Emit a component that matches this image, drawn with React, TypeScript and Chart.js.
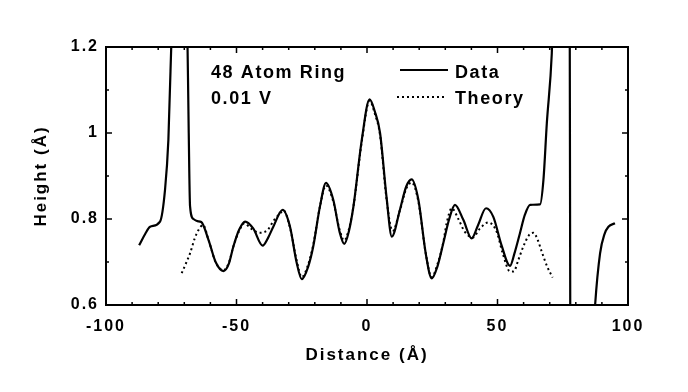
import { useEffect, useRef } from "react";
import { Chart, registerables } from "chart.js";
Chart.register(...registerables);

const dataX = [
  -87.3, -85, -83.1, -79.3, -77.4, -76.1, -74.5, -71.5, -69, -68.3, -67.8, -66.5, -65, -63.5,
  -60.7, -58, -55, -53, -51.2, -49, -46.7, -43.6, -40, -38, -35.9, -32.3, -29.5, -27, -25,
  -22.5, -20.6, -18, -15.7, -12.9, -10.5, -8.7, -7, -5.2, -2, 1, 3, 5, 7.5, 9.5, 12.6, 15,
  17.1, 19.7, 22.5, 24.8, 27, 29.2, 31.5, 33.7, 36.9, 40.1, 42.5, 45.6, 48.4, 51.5, 54.8,
  56.5, 58.6, 60.5, 62.5, 66.3, 67.6, 68.9, 70.8, 72.5, 75, 77.6, 77.9, 82, 86.5, 87.4, 89.3,
  91, 92.5, 95,
];
const dataY = [
  0.739, 0.765, 0.782, 0.794, 0.867, 0.984, 1.3, 1.6, 1.3, 1.0, 0.83, 0.8, 0.795, 0.793,
  0.751, 0.7, 0.679, 0.695, 0.736, 0.775, 0.794, 0.778, 0.738, 0.755, 0.782, 0.821, 0.782, 0.7, 0.66,
  0.69, 0.736, 0.83, 0.884, 0.844, 0.77, 0.742, 0.77, 0.829, 0.984, 1.078, 1.05, 1.0, 0.85, 0.759, 0.821, 0.875,
  0.892, 0.844, 0.72, 0.662, 0.69, 0.743, 0.8, 0.833, 0.798, 0.755, 0.785, 0.825, 0.805, 0.74, 0.691,
  0.72, 0.767, 0.81, 0.833, 0.834, 0.891, 1.023, 1.185, 1.5, 1.7, 1.5, 0.5, 0.4, 0.5, 0.6, 0.72,
  0.765, 0.782, 0.79,
];
const theoryX = [
  -71, -69.5, -67.8, -66, -64.5, -62.8, -60.7, -58, -55, -53, -51.2, -49, -47, -44.5, -41, -38,
  -35.9, -33, -32, -29.5, -27, -25, -22.5, -20.6, -18, -15.7, -12.9, -10.5, -8.7, -7, -5.2, -2,
  1, 3, 5, 7.5, 9.8, 12.6, 15, 17.1, 19.7, 22.5, 24.8, 27, 29.2, 30.5, 32.5, 35, 37.5, 40.5,
  43.3, 46.5, 49.7, 52, 54.8, 56.2, 58, 59.9, 62, 63.8, 65.5, 66.9, 69, 71.1,
];
const theoryY = [
  0.674, 0.695, 0.72, 0.755, 0.775, 0.786, 0.751, 0.7, 0.681, 0.697, 0.736, 0.772, 0.79, 0.778, 0.768, 0.775,
  0.795, 0.815, 0.82, 0.78, 0.705, 0.665, 0.695, 0.74, 0.83, 0.878, 0.84, 0.775, 0.75, 0.775, 0.829, 0.98,
  1.075, 1.045, 0.995, 0.845, 0.772, 0.82, 0.87, 0.885, 0.84, 0.72, 0.665, 0.695, 0.745, 0.79, 0.825, 0.8, 0.77, 0.757,
  0.778, 0.792, 0.77, 0.72, 0.678, 0.678, 0.705, 0.736, 0.762, 0.768, 0.75, 0.725, 0.69, 0.664,
];
const xTicks = [-100, -50, 0, 50, 100];
const yTicks = [0.6, 0.8, 1, 1.2];
const xMinorTicks = [-90, -80, -70, -60, -40, -30, -20, -10, 10, 20, 30, 40, 60, 70, 80, 90];
const yMinorTicks = [0.7, 0.9, 1.1];
const annotationLines = ["48 Atom Ring", "0.01 V"];
const legendLabels = ["Data", "Theory"];
const xTitle = "Distance (Å)";
const yTitle = "Height (Å)";

const FONT = '"Liberation Sans", Arial, Helvetica, sans-serif';

const framePlugin = {
  id: "frameAndText",
  beforeLayout(chart: any) {
    chart.ctx.letterSpacing = "2px";
  },
  beforeDraw(chart: any) {
    chart.ctx.letterSpacing = "2px";
  },
  afterDraw(chart: any) {
    const ctx = chart.ctx;
    const { left, right, top, bottom } = chart.chartArea;
    const xs = chart.scales.x;
    const ys = chart.scales.y;
    ctx.save();
    ctx.strokeStyle = "#000";
    ctx.lineWidth = 2;
    ctx.strokeRect(left, top, right - left, bottom - top);
    ctx.lineWidth = 1.5;
    ctx.beginPath();
    const tick = (v: number, len: number, horiz: boolean) => {
      if (horiz) {
        const p = xs.getPixelForValue(v);
        ctx.moveTo(p, bottom); ctx.lineTo(p, bottom - len);
        ctx.moveTo(p, top); ctx.lineTo(p, top + len);
      } else {
        const p = ys.getPixelForValue(v);
        ctx.moveTo(left, p); ctx.lineTo(left + len, p);
        ctx.moveTo(right, p); ctx.lineTo(right - len, p);
      }
    };
    xTicks.forEach((v) => tick(v, 6, true));
    xMinorTicks.forEach((v) => tick(v, 3, true));
    yTicks.forEach((v) => tick(v, 6, false));
    yMinorTicks.forEach((v) => tick(v, 3, false));
    ctx.stroke();

    ctx.fillStyle = "#000";
    ctx.font = `bold 18px ${FONT}`;
    ctx.letterSpacing = "1.6px";
    ctx.textAlign = "left";
    ctx.textBaseline = "alphabetic";
    ctx.fillText(annotationLines[0], 211, 78);
    ctx.fillText(annotationLines[1], 211, 104);

    ctx.lineWidth = 2;
    ctx.beginPath();
    ctx.moveTo(400, 70);
    ctx.lineTo(448, 70);
    ctx.stroke();
    ctx.setLineDash([2, 3]);
    ctx.beginPath();
    ctx.moveTo(397, 97);
    ctx.lineTo(447, 97);
    ctx.stroke();
    ctx.setLineDash([]);
    ctx.fillText(legendLabels[0], 455, 78);
    ctx.fillText(legendLabels[1], 455, 104);
    ctx.restore();
  },
};

export default function App() {
  const ref = useRef<HTMLCanvasElement | null>(null);
  useEffect(() => {
    document.body.style.margin = "0";
    if (!ref.current) return;
    const chart = new Chart(ref.current, {
      type: "line",
      data: {
        datasets: [
          {
            label: legendLabels[0],
            data: dataX.map((x, i) => ({ x, y: dataY[i] })),
            borderColor: "#000",
            borderWidth: 2.2,
            pointRadius: 0,
            cubicInterpolationMode: "monotone",
            fill: false,
            clip: 0,
          },
          {
            label: legendLabels[1],
            data: theoryX.map((x, i) => ({ x, y: theoryY[i] })),
            borderColor: "#000",
            borderWidth: 2,
            borderDash: [2, 3],
            pointRadius: 0,
            cubicInterpolationMode: "monotone",
            fill: false,
            clip: 0,
          },
        ],
      },
      options: {
        animation: false,
        responsive: false,
        devicePixelRatio: 1,
        layout: { padding: { left: 0, right: 60, top: 47, bottom: 0 } },
        plugins: { legend: { display: false }, tooltip: { enabled: false } },
        scales: {
          x: {
            type: "linear",
            min: -100,
            max: 100,
            afterBuildTicks: (s: any) => {
              s.ticks = xTicks.map((value) => ({ value }));
            },
            afterFit: (s: any) => {
              s.height = 87;
            },
            grid: { display: false, drawTicks: false },
            border: { display: false },
            ticks: {
              color: "#000",
              font: { family: FONT, size: 16, weight: "bold" },
              padding: 12,
              maxRotation: 0,
              autoSkip: false,
              callback: (v: any) => String(v),
            },
            title: {
              display: true,
              text: xTitle,
              color: "#000",
              font: { family: FONT, size: 17, weight: "bold" },
              padding: { top: 0, bottom: 26 },
            },
          },
          y: {
            type: "linear",
            min: 0.6,
            max: 1.2,
            afterBuildTicks: (s: any) => {
              s.ticks = yTicks.map((value) => ({ value }));
            },
            afterFit: (s: any) => {
              s.width = 106;
            },
            grid: { display: false, drawTicks: false },
            border: { display: false },
            ticks: {
              color: "#000",
              font: { family: FONT, size: 16, weight: "bold" },
              padding: 7,
              autoSkip: false,
              callback: (v: any) => String(v),
            },
            title: {
              display: true,
              text: yTitle,
              color: "#000",
              font: { family: FONT, size: 17, weight: "bold" },
              padding: { top: 31, bottom: 0 },
            },
          },
        },
      },
      plugins: [framePlugin],
    } as any);
    return () => chart.destroy();
  }, []);
  return (
    <div style={{ width: 688, height: 392, background: "#fff" }}>
      <canvas ref={ref} width={688} height={392} style={{ display: "block" }} />
    </div>
  );
}
